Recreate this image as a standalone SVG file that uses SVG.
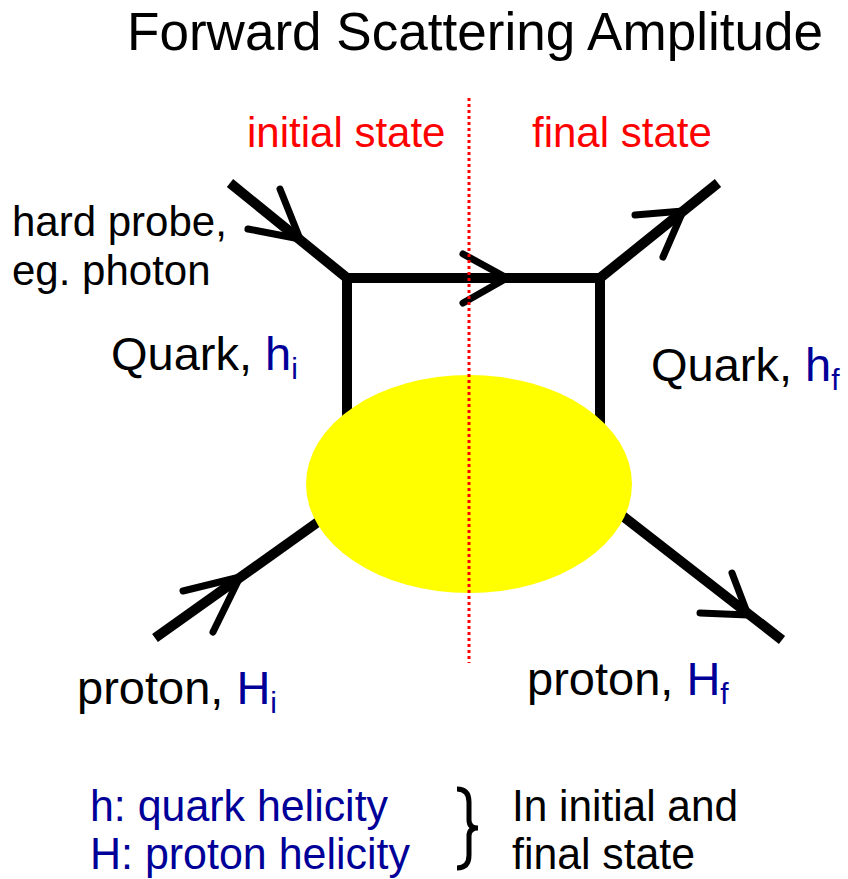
<svg xmlns="http://www.w3.org/2000/svg" width="848" height="879" viewBox="0 0 848 879">
<style>
text{font-family:"Liberation Sans",Arial,sans-serif;}
.blk{fill:#000;}
.red{fill:#FF0000;}
.blu{fill:#000099;}
.line{stroke:#000;stroke-width:10;fill:none;stroke-linecap:butt;stroke-linejoin:miter;}
.barb{stroke:#000;stroke-width:7;fill:none;stroke-linecap:round;stroke-linejoin:round;}
.sub{font-size:30px;}
</style>
<rect width="848" height="879" fill="#fff"/>
<g id="connectors">
<path class="line" d="M230,183 L347,278"/>
<path class="line" d="M347,430 L347,278 L600,278 L600,430"/>
<path class="line" d="M600,278 L718,183"/>
<path class="line" d="M155,638 L325,517"/>
<path class="line" d="M615,510 L782,640"/>
<path class="barb" d="M280,189 L300,239 L248,229"/>
<path class="barb" d="M463,254 L507,278 L463,303"/>
<path class="barb" d="M635,215 L683,211 L663,257"/>
<path class="barb" d="M183,591 L240,577 L213,632"/>
<path class="barb" d="M732,573 L748,615 L700,613"/>
</g>
<g id="blob">
<ellipse cx="469" cy="484" rx="163" ry="109" fill="#FFFF00"/>
</g>
<g id="divider">
<line x1="469" y1="98" x2="469" y2="663" stroke="#FF0000" stroke-width="3" stroke-dasharray="3 3"/>
</g>
<g id="title">
<text x="127" y="50" font-size="53" textLength="696" lengthAdjust="spacingAndGlyphs" class="blk">Forward Scattering Amplitude</text>
</g>
<g id="labels">
<text x="247" y="147" font-size="42" class="red">initial state</text>
<text x="532" y="147" font-size="42" class="red">final state</text>
<text x="12" y="236" font-size="42" class="blk">hard probe,</text>
<text x="12" y="285" font-size="42" class="blk">eg. photon</text>
<text x="111" y="370" font-size="47" class="blk">Quark, <tspan class="blu">h</tspan><tspan class="blu sub" dy="9">i</tspan></text>
<text x="651" y="381" font-size="47" class="blk">Quark, <tspan class="blu">h</tspan><tspan class="blu sub" dy="9">f</tspan></text>
<text x="77" y="704" font-size="47" class="blk">proton, <tspan class="blu">H</tspan><tspan class="blu sub" dy="9">i</tspan></text>
<text x="527" y="695" font-size="47" class="blk">proton, <tspan class="blu">H</tspan><tspan class="blu sub" dy="9">f</tspan></text>
</g>
<g id="legend">
<text x="90" y="821" font-size="44" textLength="298" lengthAdjust="spacingAndGlyphs" class="blu">h: quark helicity</text>
<text x="90" y="869" font-size="44" textLength="320" lengthAdjust="spacingAndGlyphs" class="blu">H: proton helicity</text>
<path d="M457,789 Q469,789 469,802 L469,820 Q469,828 478,828 Q469,828 469,836 L469,855 Q469,868 457,868" fill="none" stroke="#000" stroke-width="5"/>
<text x="512" y="821" font-size="44" textLength="226" lengthAdjust="spacingAndGlyphs" class="blk">In initial and</text>
<text x="512" y="869" font-size="44" textLength="183" lengthAdjust="spacingAndGlyphs" class="blk">final state</text>
</g>
</svg>
